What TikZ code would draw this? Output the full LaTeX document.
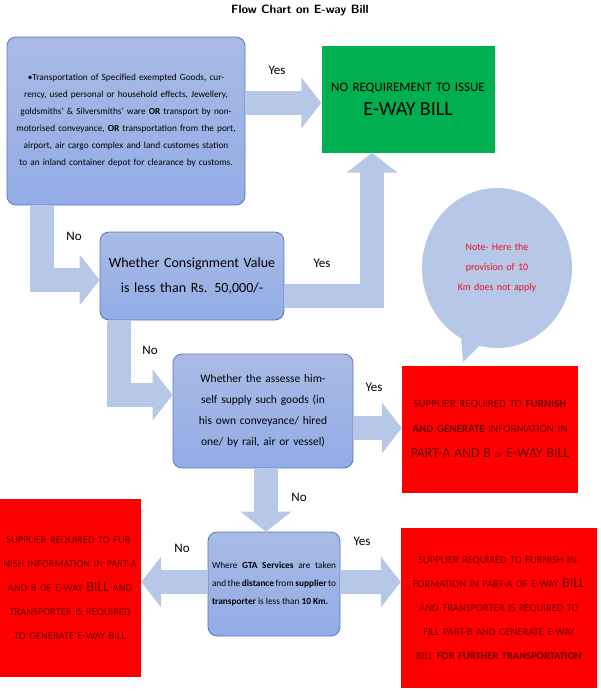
\documentclass[tikz,border=0pt]{standalone}
\usepackage{fontspec}
\setmainfont{Carlito}
\usetikzlibrary{arrows.meta,shapes.callouts}
\definecolor{boxblue}{RGB}{140,164,220}
\definecolor{boxline}{RGB}{95,118,185}
\definecolor{arrowblue}{RGB}{182,199,232}
\definecolor{okgreen}{RGB}{0,176,80}
\definecolor{warnred}{RGB}{255,0,0}
\definecolor{darkred}{RGB}{105,0,0}
\definecolor{notered}{RGB}{230,20,30}
\tikzset{
  askbox/.style={draw=boxline,line width=0.8pt,rounded corners=9pt,top color=boxblue!75,bottom color=boxblue!105!black,
    align=center,inner sep=3pt},
  redbox/.style={fill=warnred,text=darkred,align=center,inner sep=3pt},
  flowarrow/.style={draw=arrowblue,line width=24pt,line join=miter,
    -{Triangle[width=50pt,length=20pt]}},
  answer/.style={font=\fontsize{13}{13}\selectfont}
}
\begin{document}
\begin{tikzpicture}[x=1pt,y=-1pt]
\useasboundingbox (0,0) rectangle (600,691);
\node[font=\sffamily\bfseries\fontsize{12}{12}\selectfont] (title) at (300,10) {Flow Chart on E-way Bill};

% question boxes
\node[askbox,minimum width=238pt,minimum height=168pt,text width=228pt,font=\fontsize{9.3}{17}\selectfont] (goods) at (126,121)
{•Transportation of Specified exempted Goods, currency, used personal or household effects, Jewellery, goldsmiths' \& Silversmiths' ware \textbf{OR} transport by non-motorised conveyance, \textbf{OR} transportation from the port, airport, air cargo complex and land customes station to an inland container depot for clearance by customs.};
\node[askbox,minimum width=184pt,minimum height=88pt,text width=170pt,font=\fontsize{14}{25}\selectfont] (value) at (192,276)
{Whether Consignment Value is less than Rs. 50,000/-};
\node[askbox,minimum width=180pt,minimum height=114pt,text width=168pt,font=\fontsize{11.5}{21}\selectfont] (self) at (263,411)
{Whether the assesse himself supply such goods (in his own conveyance/ hired one/ by rail, air or vessel)};
\node[askbox,minimum width=132pt,minimum height=104pt,text width=124pt,align=justify,font=\fontsize{9.3}{18}\selectfont] (gta) at (274,584)
{Where \textbf{GTA Services} are taken and the \textbf{distance} from \textbf{supplier} to \textbf{transporter} is less than \textbf{10 Km.}};

% result boxes
\node[fill=okgreen,minimum width=173pt,minimum height=107pt,text width=165pt,align=center,font=\fontsize{13}{26}\selectfont] (noneed) at (408,99)
{NO REQUIREMENT TO ISSUE\\[-2pt]{\fontsize{20}{20}\selectfont E-WAY BILL}};
\node[redbox,minimum width=176pt,minimum height=127pt,text width=168pt,font=\fontsize{11}{25}\selectfont] (partab) at (490,429)
{SUPPLIER REQUIRED TO \textbf{FURNISH AND GENERATE} INFORMATION IN {\fontsize{14}{14}\selectfont PART-A} {\fontsize{14}{14}\selectfont AND B} {\scriptsize OF} {\fontsize{14}{14}\selectfont E-WAY BILL}};
\node[redbox,minimum width=140pt,minimum height=178pt,text width=136pt,font=\fontsize{10.5}{24}\selectfont] (transgen) at (70,588)
{SUPPLIER REQUIRED TO FURNISH INFORMATION IN PART-A AND B OF E-WAY {\fontsize{14}{14}\selectfont BILL} AND TRANSPORTER IS REQUIRED TO GENERATE E-WAY BILL};
\node[redbox,minimum width=195pt,minimum height=160pt,text width=190pt,font=\fontsize{10.5}{24}\selectfont] (transfill) at (499,608)
{SUPPLIER REQUIRED TO FURNISH INFORMATION IN PART-A OF E-WAY {\fontsize{14}{14}\selectfont BILL} AND TRANSPORTER IS REQUIRED TO FILL PART-B AND GENERATE E-WAY BILL \textbf{FOR FURTHER TRANSPORTATION}};

% note
\node[ellipse callout,fill=arrowblue,minimum width=150pt,minimum height=160pt,callout absolute pointer={(463,362)},
  text width=80pt,align=center,text=notered,font=\fontsize{10}{20}\selectfont] (note) at (497,268)
{Note- Here the provision of 10 Km does not apply};

% arrows
\draw[flowarrow] (goods.east |- 0,103) -- (noneed.west |- 0,103);
\draw[flowarrow] (42,206) |- (value.west |- 0,280);
\draw[flowarrow] (value.east |- 0,296) -| (noneed.south -| 372,0);
\draw[flowarrow] (119,321) |- (self.west |- 0,395);
\draw[flowarrow] (self.east |- 0,428) -- (partab.west |- 0,428);
\draw[flowarrow] (self.south -| 266,0) -- (gta.north -| 266,0);
\draw[flowarrow] (gta.west |- 0,582) -- (transgen.east |- 0,582);
\draw[flowarrow] (gta.east |- 0,582) -- (transfill.west |- 0,582);

% answers
\node[answer] (yes1) at (277,70) {Yes};
\node[answer] (no1) at (74,236) {No};
\node[answer] (yes2) at (322,263) {Yes};
\node[answer] (no2) at (150,350) {No};
\node[answer] (yes3) at (374,387) {Yes};
\node[answer] (no3) at (299,497) {No};
\node[answer] (no4) at (182,548) {No};
\node[answer] (yes4) at (362,541) {Yes};
\end{tikzpicture}
\end{document}
